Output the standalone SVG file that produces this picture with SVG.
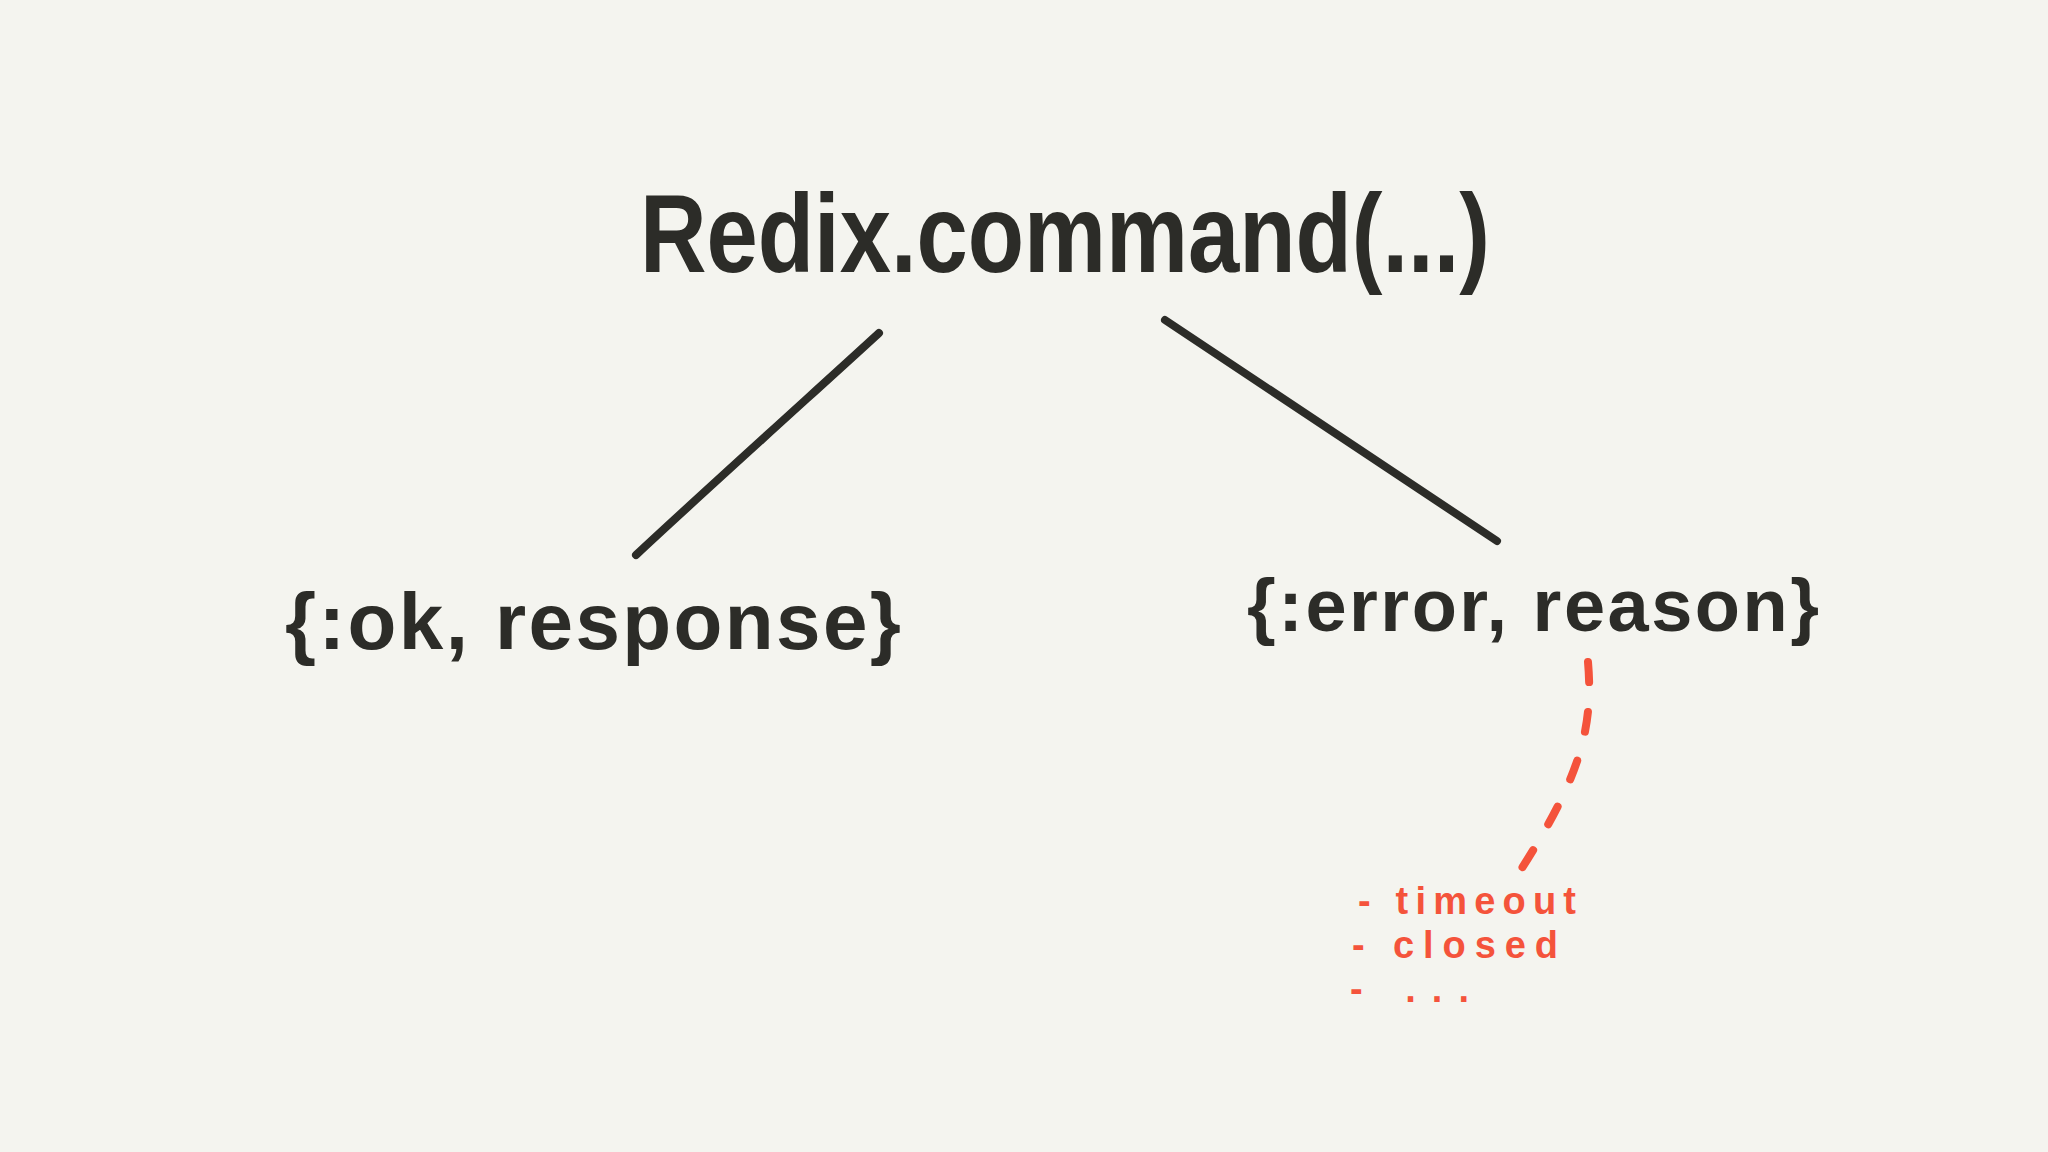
<svg xmlns="http://www.w3.org/2000/svg" width="2048" height="1152" viewBox="0 0 2048 1152">
  <style>
    .ink { fill: #2c2c28; font-family: "Liberation Sans", Arial, sans-serif; font-weight: bold; }
    .red { fill: #f4533b; font-family: "Liberation Sans", Arial, sans-serif; font-weight: bold; }
    .edge { fill: none; stroke: #2c2c28; stroke-width: 8; stroke-linecap: round; }
    .dash { fill: none; stroke: #f4533b; stroke-width: 8; stroke-linecap: round; stroke-dasharray: 20 30; }
  </style>
  <rect x="0" y="0" width="2048" height="1152" fill="#f4f4ef"/>

  <g id="connectors">
    <path class="edge" d="M879,333 C850,360 700,495 636,555"/>
    <path class="edge" d="M1165,320 L1497,541"/>
    <path class="dash" d="M1588,662 C1594,730 1578,780 1522,868"/>
  </g>

  <g id="node-command">
    <text class="ink" x="640" y="272" font-size="112" textLength="850" lengthAdjust="spacingAndGlyphs">Redix.command(...)</text>
  </g>

  <g id="node-ok">
    <text class="ink" x="285" y="649" font-size="80" textLength="616" lengthAdjust="spacing">{:ok, response}</text>
  </g>

  <g id="node-error">
    <text class="ink" x="1247" y="631" font-size="74" textLength="572" lengthAdjust="spacing">{:error, reason}</text>
  </g>

  <g id="node-reasons">
    <text class="red" x="1358" y="914" font-size="38" textLength="218" lengthAdjust="spacing">- timeout</text>
    <text class="red" x="1352" y="958" font-size="38" textLength="206" lengthAdjust="spacing">- closed</text>
    <text class="red" x="1350" y="1002" font-size="38" textLength="119" lengthAdjust="spacing">- ...</text>
  </g>
</svg>
